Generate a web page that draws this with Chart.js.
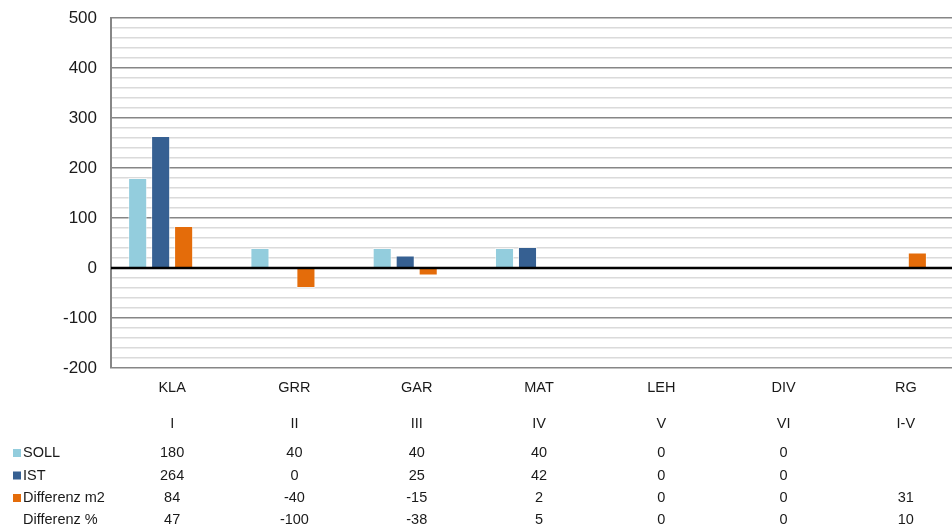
<!DOCTYPE html>
<html>
<head>
<meta charset="utf-8">
<script src="https://cdn.jsdelivr.net/npm/chart.js@4.4.1/dist/chart.umd.min.js"></script>
<style>
  html, body { margin: 0; padding: 0; overflow: hidden; background: #fff; }
  #wrap { width: 968px; height: 531px; }
</style>
</head>
<body>
<div id="wrap"><canvas id="barChart"></canvas></div>
<script>
const categories = ['KLA', 'GRR', 'GAR', 'MAT', 'LEH', 'DIV', 'RG'];
const groups = ['I', 'II', 'III', 'IV', 'V', 'VI', 'I-V'];
const soll = [180, 40, 40, 40, 0, 0, null];
const ist = [264, 0, 25, 42, 0, 0, null];
const diffM2 = [84, -40, -15, 2, 0, 0, 31];
const diffPct = [47, -100, -38, 5, 0, 0, 10];

const FONT = '"Liberation Sans", Arial, sans-serif';

// data table under the plot, columns follow the x scale
const tablePlugin = {
  id: 'dataTable',
  afterDatasetsDraw(chart) {
    const { ctx, scales: { y }, chartArea } = chart;

    // zero line on top of the bars
    const y0 = y.getPixelForValue(0);
    ctx.save();
    ctx.strokeStyle = '#000';
    ctx.lineWidth = 2.5;
    ctx.beginPath();
    ctx.moveTo(chartArea.left, y0);
    ctx.lineTo(chartArea.right, y0);
    ctx.stroke();
    ctx.restore();
  },
  afterDraw(chart) {
    const { ctx, scales: { x } } = chart;
    ctx.save();
    ctx.font = '14.5px ' + FONT;
    ctx.fillStyle = '#1a1a1a';
    ctx.textAlign = 'center';
    ctx.textBaseline = 'alphabetic';

    const rows = [
      { base: 392, values: categories },
      { base: 428, values: groups },
      { base: 457, values: soll, label: 'SOLL', color: chart.data.datasets[0].backgroundColor },
      { base: 479.5, values: ist, label: 'IST', color: chart.data.datasets[1].backgroundColor },
      { base: 502, values: diffM2, label: 'Differenz m2', color: chart.data.datasets[2].backgroundColor },
      { base: 523.5, values: diffPct, label: 'Differenz %' }
    ];

    rows.forEach(row => {
      row.values.forEach((v, i) => {
        if (v === null) return;
        ctx.fillText(String(v), x.getPixelForValue(i), row.base);
      });
      if (row.label) {
        ctx.textAlign = 'left';
        ctx.fillText(row.label, 23, row.base);
        ctx.textAlign = 'center';
        if (row.color) {
          ctx.fillStyle = row.color;
          ctx.fillRect(13, row.base - 8, 8, 8);
          ctx.fillStyle = '#1a1a1a';
        }
      }
    });
    ctx.restore();
  }
};

new Chart(document.getElementById('barChart'), {
  type: 'bar',
  data: {
    labels: categories,
    datasets: [
      { label: 'SOLL', data: soll, backgroundColor: '#93cddd' },
      { label: 'IST', data: ist, backgroundColor: '#366092' },
      { label: 'Differenz m2', data: diffM2, backgroundColor: '#e46c0a' },
      { label: 'Differenz %', data: diffPct, backgroundColor: 'rgba(0,0,0,0)', borderWidth: 0 }
    ]
  },
  options: {
    responsive: true,
    maintainAspectRatio: false,
    animation: false,
    devicePixelRatio: 1,
    layout: { padding: { top: 18, bottom: 163, right: 1, left: 0 } },
    datasets: {
      bar: {
        categoryPercentage: 0.752,
        barPercentage: 0.83,
        borderWidth: 1,
        borderColor: 'rgba(255,255,255,0.55)'
      }
    },
    plugins: {
      legend: { display: false },
      tooltip: { enabled: false }
    },
    scales: {
      x: {
        display: false
      },
      y: {
        min: -200,
        max: 500,
        afterFit(scale) {
          scale.width = 111;
          scale.paddingTop = 0;
          scale.paddingBottom = 0;
        },
        border: { display: true, color: '#868686', width: 2 },
        grid: {
          drawTicks: false,
          color: c => c.tick.value === 0 ? '#000' : (c.tick.value % 100 === 0 ? '#868686' : '#dadada'),
          lineWidth: 1.5
        },
        ticks: {
          stepSize: 20,
          autoSkip: false,
          padding: 14,
          color: '#1a1a1a',
          font: { family: FONT, size: 17 },
          callback: v => v % 100 === 0 ? v : ''
        }
      }
    }
  },
  plugins: [tablePlugin]
});
</script>
</body>
</html>
